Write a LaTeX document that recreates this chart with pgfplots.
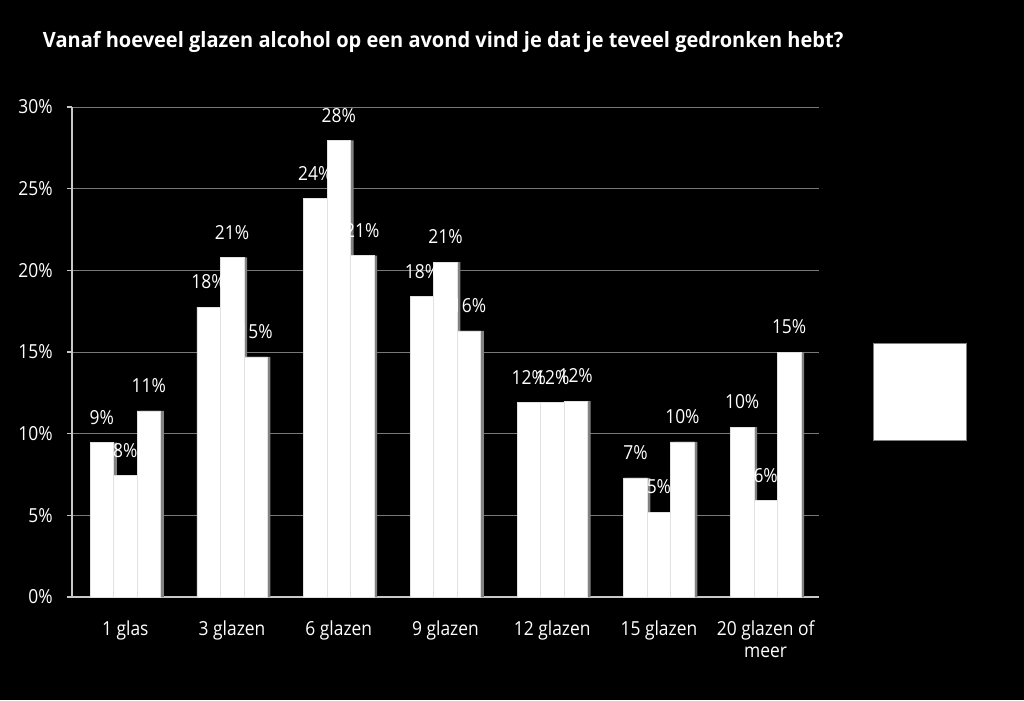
\documentclass[border=0pt]{standalone}
\usepackage{pgfplots}
\usepackage{pgfplotstable}
\pgfplotsset{compat=1.18}
\usepackage{fontspec}
\setmainfont{Open Sans}[FakeStretch=0.9]
\newfontfamily\titlefont{Open Sans}[FakeStretch=0.95]
\definecolor{axisgray}{RGB}{200,200,200}
\definecolor{gridgray}{RGB}{120,120,120}
\definecolor{shadowgray}{RGB}{130,130,130}
\definecolor{sepgray}{RGB}{225,225,225}

\pgfplotstableread{
x a alab b blab c clab
0 9.45 9 7.45 8 11.4 11
1 17.75 18 20.8 21 14.7 15
2 24.4 24 27.95 28 20.9 21
3 18.4 18 20.5 21 16.3 16
4 11.9 12 11.9 12 12.0 12
5 7.3 7 5.2 5 9.5 10
6 10.4 10 5.9 6 15.0 15
}\datatable

\begin{document}
\begin{tikzpicture}
\fill[black] (0pt,0pt) rectangle (768pt,-525pt);
\node[anchor=base west, text=white, font=\titlefont\bfseries\fontsize{15.8}{19}\selectfont, inner sep=0pt] at (32pt,-35.5pt) {Vanaf hoeveel glazen alcohol op een avond vind je dat je teveel gedronken hebt?};
\begin{axis}[
  at={(54pt,-80.25pt)}, anchor=north west,
  scale only axis, width=560.25pt, height=367.5pt,
  xmin=-0.5, xmax=6.5, ymin=0, ymax=30,
  ybar, bar width=0.22,
  ytick={0,5,...,30},
  yticklabel={\pgfmathprintnumber{\tick}\%},
  /pgf/number format/assume math mode=true,
  ticklabel style={text=white, font=\fontsize{14.5}{17}\selectfont},
  yticklabel shift=7pt,
  xtick={0,...,6},
  xticklabels={1 glas,3 glazen,6 glazen,9 glazen,12 glazen,15 glazen,20 glazen of\\meer},
  xticklabel style={align=center, yshift=-10pt},
  major x tick style={draw=none},
  extra x ticks={-0.5,0.5,...,6.5},
  extra x tick labels={},
  extra x tick style={grid=none, tick align=outside, major tick length=4pt, tick style={draw=axisgray, line width=0.8pt}},
  ytick align=outside, major tick length=4pt,
  ytick style={draw=axisgray, line width=0.8pt},
  ymajorgrids, grid style={gridgray, line width=0.6pt},
  axis line style={axisgray, line width=0.8pt},
  axis x line*=bottom, axis y line*=left,
  point meta=explicit symbolic,
  nodes near coords={\pgfplotspointmeta\%},
  every node near coord/.append style={text=white, font=\fontsize{14.5}{17}\selectfont, yshift=10pt},
]
% shadows
\addplot[fill=shadowgray, draw=none, bar shift=-0.19, nodes near coords={}] table[x=x, y=a, meta=alab] {\datatable};
\addplot[fill=shadowgray, draw=none, bar shift=0.03, nodes near coords={}] table[x=x, y=b, meta=blab] {\datatable};
\addplot[fill=shadowgray, draw=none, bar shift=0.25, nodes near coords={}] table[x=x, y=c, meta=clab] {\datatable};
% bars
\addplot[fill=white, draw=sepgray, line width=0.4pt, bar shift=-0.22] table[x=x, y=a, meta=alab] {\datatable};
\addplot[fill=white, draw=sepgray, line width=0.4pt, bar shift=0] table[x=x, y=b, meta=blab] {\datatable};
\addplot[fill=white, draw=sepgray, line width=0.4pt, bar shift=0.22] table[x=x, y=c, meta=clab] {\datatable};
\end{axis}
\filldraw[fill=white, draw=gray, line width=0.6pt] (654.75pt,-257.25pt) rectangle (724.5pt,-330pt);
\end{tikzpicture}
\end{document}
